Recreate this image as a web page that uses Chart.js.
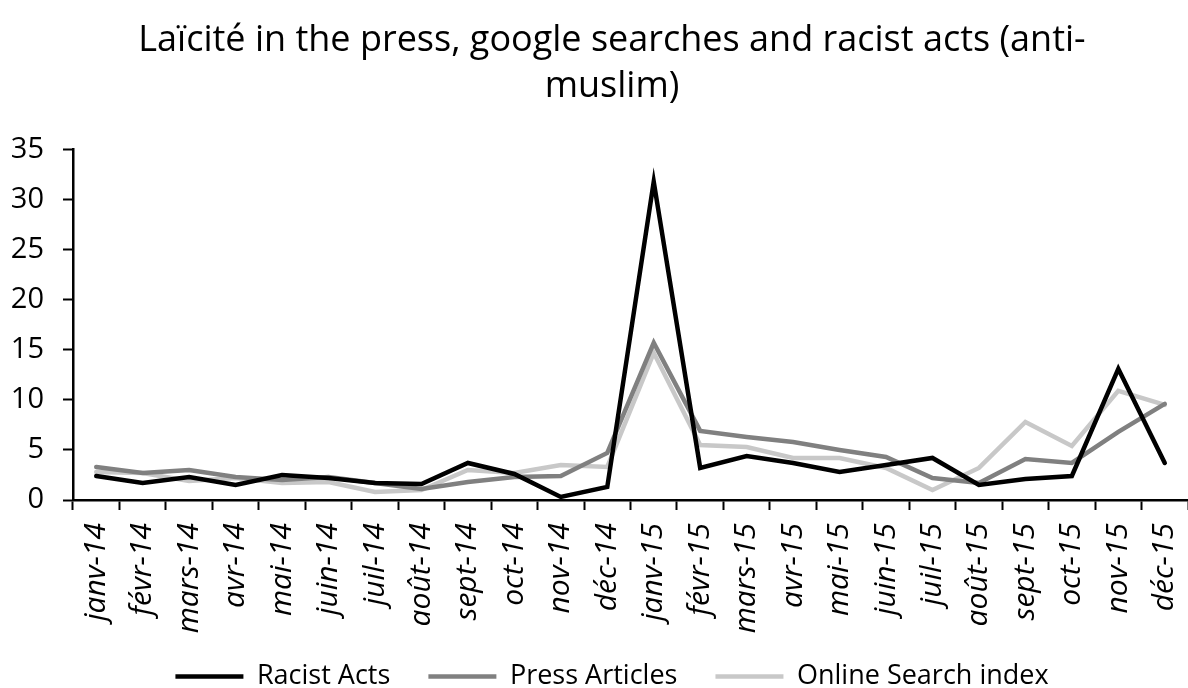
<!DOCTYPE html>
<html lang="en">
<head>
    <meta charset="UTF-8">
    <title>Laïcité chart</title>
    <style>
        html, body {
            margin: 0;
            padding: 0;
            background: #fff;
        }
        #wrap {
            width: 1188px;
            height: 688px;
        }
    </style>
</head>
<body>
    <div id="wrap"><canvas id="chart" width="1188" height="688"></canvas></div>
    <script src="https://cdn.jsdelivr.net/npm/chart.js"></script>
    <script>
        const months = ['janv-14', 'févr-14', 'mars-14', 'avr-14', 'mai-14', 'juin-14', 'juil-14', 'août-14',
            'sept-14', 'oct-14', 'nov-14', 'déc-14', 'janv-15', 'févr-15', 'mars-15', 'avr-15', 'mai-15',
            'juin-15', 'juil-15', 'août-15', 'sept-15', 'oct-15', 'nov-15', 'déc-15'];

        const racistActs = [2.4, 1.7, 2.3, 1.5, 2.5, 2.2, 1.7, 1.6, 3.7, 2.6, 0.3, 1.3,
            31.8, 3.2, 4.4, 3.7, 2.8, 3.5, 4.2, 1.5, 2.1, 2.4, 13.1, 3.7];
        const pressArticles = [3.3, 2.7, 3.0, 2.3, 2.0, 2.3, 1.7, 1.1, 1.8, 2.3, 2.4, 4.7,
            15.7, 6.9, 6.3, 5.8, 5.0, 4.3, 2.2, 1.7, 4.1, 3.7, 6.8, 9.6];
        const searchIndex = [2.8, 2.7, 1.9, 2.2, 1.7, 1.8, 0.8, 1.0, 3.0, 2.7, 3.5, 3.3,
            14.7, 5.5, 5.3, 4.2, 4.2, 3.2, 1.0, 3.2, 7.8, 5.4, 10.9, 9.5];

        const yTicks = [0, 5, 10, 15, 20, 25, 30, 35];

        const FONT = "'Open Sans', sans-serif";

        function line(label, data, color) {
            return {
                label: label,
                data: data,
                borderColor: color,
                backgroundColor: color,
                borderWidth: 4.5,
                borderCapStyle: 'round',
                pointRadius: 0,
                tension: 0,
                fill: false
            };
        }

        // title and legend in the original sit a bit right of the canvas centre
        const shiftBlocks = {
            id: 'shiftBlocks',
            afterLayout(chart) {
                if (chart.titleBlock) chart.titleBlock.left = 36;
                if (chart.legend) chart.legend.left = 36;
            }
        };

        new Chart(document.getElementById('chart'), {
            type: 'line',
            data: {
                labels: months,
                datasets: [
                    line('Racist Acts', racistActs, '#000000'),
                    line('Press Articles', pressArticles, '#808080'),
                    line('Online Search index', searchIndex, '#c8c8c8')
                ]
            },
            plugins: [shiftBlocks],
            options: {
                responsive: false,
                animation: false,
                layout: { padding: { left: 0, right: 0, top: 0, bottom: -12 } },
                plugins: {
                    tooltip: { enabled: false },
                    title: {
                        display: true,
                        text: ['Laïcité in the press, google searches and racist acts (anti-', 'muslim)'],
                        color: '#000',
                        font: { family: FONT, size: 36, weight: 'normal', lineHeight: 1.3 },
                        padding: { top: 17, bottom: 39 }
                    },
                    legend: {
                        position: 'bottom',
                        labels: {
                            color: '#000',
                            font: { family: FONT, size: 27 },
                            usePointStyle: true,
                            pointStyle: 'line',
                            pointStyleWidth: 68,
                            boxHeight: 5,
                            padding: 10,
                            generateLabels: (chart) => {
                                const items = Chart.defaults.plugins.legend.labels.generateLabels(chart);
                                items.forEach((it, i) => {
                                    if (i < items.length - 1) it.text += '    ';
                                });
                                return items;
                            }
                        }
                    }
                },
                scales: {
                    x: {
                        offset: true,
                        afterFit: (scale) => {
                            scale.height = 153;
                            scale.paddingLeft = 0;
                            scale.paddingRight = 0;
                        },
                        grid: {
                            offset: true,
                            drawOnChartArea: false,
                            drawTicks: true,
                            tickLength: 10,
                            tickColor: '#000',
                            tickWidth: 2
                        },
                        border: { color: '#000', width: 2.5 },
                        ticks: {
                            color: '#000',
                            font: { family: FONT, size: 30, style: 'italic' },
                            minRotation: 90,
                            maxRotation: 90,
                            autoSkip: false,
                            padding: 13
                        }
                    },
                    y: {
                        min: 0,
                        max: 35,
                        afterBuildTicks: (scale) => {
                            scale.ticks = yTicks.map(v => ({ value: v }));
                        },
                        afterFit: (scale) => {
                            scale.width = 73;
                        },
                        grid: {
                            drawOnChartArea: false,
                            drawTicks: true,
                            tickLength: 10,
                            tickColor: '#000',
                            tickWidth: 2
                        },
                        border: { color: '#000', width: 2.5 },
                        ticks: {
                            color: '#000',
                            font: { family: FONT, size: 29 },
                            padding: 19
                        }
                    }
                }
            }
        });
    </script>
</body>
</html>
